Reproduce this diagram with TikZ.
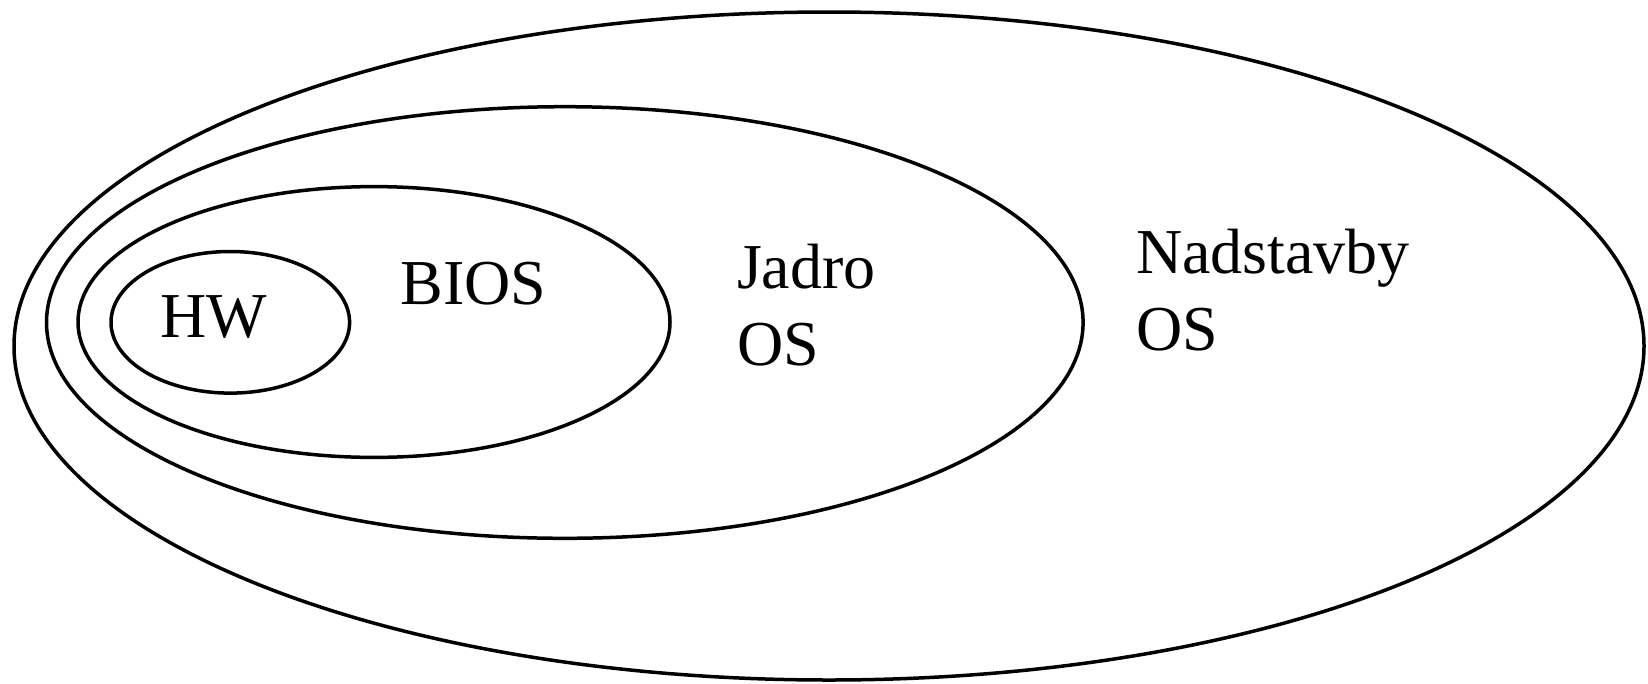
\documentclass[tikz,border=0pt]{standalone}
\usepackage{fontspec}
\setmainfont{Liberation Serif}
\begin{document}
\begin{tikzpicture}[x=1pt,y=-1pt,
  ring/.style={draw=black,line width=3.5pt},
  lbl/.style={anchor=base west,inner sep=0pt,outer sep=0pt,font=\fontsize{64}{77}\selectfont}]
\useasboundingbox (0,0) rectangle (1648,683);
\draw[ring] (829,346) ellipse [x radius=815, y radius=334];
\draw[ring] (564.8,322.5) ellipse [x radius=518.3, y radius=215.8];
\draw[ring] (374,322) ellipse [x radius=296, y radius=135.4];
\draw[ring] (230.3,322.3) ellipse [x radius=119.3, y radius=70.8];
\node[lbl] (hw) at (160,337) {HW};
\node[lbl] (bios) at (400.5,304) {BIOS};
\node[lbl] (jadro) at (737,288) {Jadro};
\node[lbl] (jadroos) at (737,365) {OS};
\node[lbl] (nad) at (1136,273) {Nadstavby};
\node[lbl] (nados) at (1136,350) {OS};
\end{tikzpicture}
\end{document}
